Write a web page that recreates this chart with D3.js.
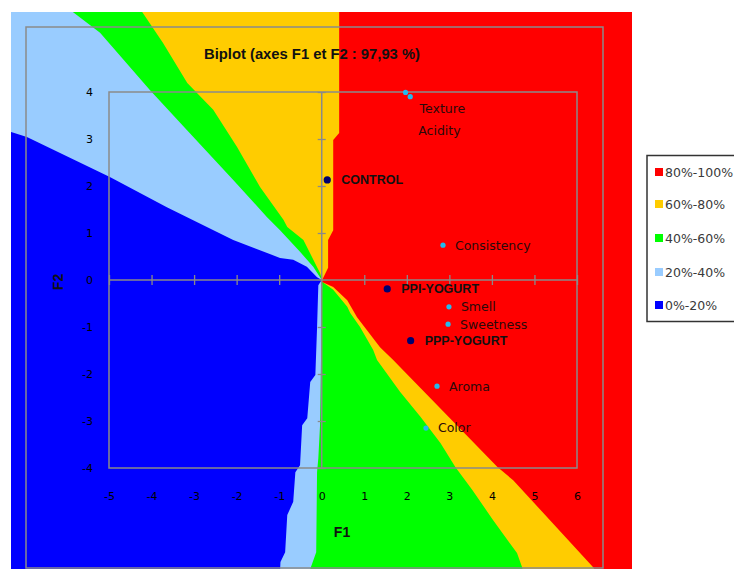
<!DOCTYPE html>
<html><head><meta charset="utf-8">
<script src="https://cdn.jsdelivr.net/npm/d3@7"></script>
<style>body{margin:0;background:#fff}svg{display:block}</style>
</head><body>
<svg id="c" width="734" height="569"></svg>
<script>
// ---------- data ----------
const xTicks = [-5,-4,-3,-2,-1,0,1,2,3,4,5,6];
const yTicks = [-4,-3,-2,-1,0,1,2,3,4];
const chartTitle = "Biplot (axes F1 et F2 : 97,93 %)";
const xTitle = "F1", yTitle = "F2";

const zoneLabels = ["80%-100%","60%-80%","40%-60%","20%-40%","0%-20%"];
const zoneColors = ["#ff0000","#ffcc00","#00ff00","#99ccff","#0000ff"];

// zone boundaries (F1,F2), from the centre outwards
const b20upper = [[0,0],[-0.11,0.06],[-0.35,0.28],[-0.67,0.43],[-0.98,0.47],[-2.08,0.85],[-3.64,1.55],[-4.98,2.19],[-6.93,3.04],[-7.30,3.15],[-7.6,3.28]];
const b20lower = [[-0.08,-0.11],[-0.11,-1.02],[-0.15,-2.02],[-0.27,-2.17],[-0.34,-2.94],[-0.46,-3.09],[-0.51,-3.94],[-0.62,-4.09],[-0.67,-4.72],[-0.81,-5.0],[-0.86,-5.79],[-0.97,-6.0],[-1.0,-6.6]];
const b40upper = [[0,0],[-0.04,0.06],[-0.20,0.28],[-0.51,0.60],[-0.98,1.06],[-1.29,1.34],[-2.08,2.13],[-3.17,3.19],[-4.04,4.04],[-5.21,5.26],[-5.85,5.70],[-6.1,6.0]];
const b40lower = [[0.01,-0.11],[-0.04,-3.09],[-0.08,-3.79],[-0.11,-4.09],[-0.13,-5.79],[-0.27,-6.15],[-0.32,-6.6]];
const b60upper = [[0.01,0],[-0.04,0.15],[-0.43,0.85],[-0.81,1.13],[-0.90,1.28],[-1.45,1.98],[-1.99,2.83],[-2.55,3.62],[-3.16,4.19],[-3.73,5.04],[-4.22,5.70],[-4.4,6.0]];
const b60lower = [[0.04,-0.06],[0.27,-0.21],[0.6,-0.57],[0.67,-0.70],[0.9,-1.0],[1.21,-1.49],[1.30,-1.70],[1.84,-2.38],[2.32,-2.91],[2.79,-3.47],[3.14,-3.98],[3.54,-4.47],[4.03,-5.11],[4.59,-5.81],[4.71,-6.11],[4.85,-6.6]];
const b80upper = [[0.01,0],[0.15,0.26],[0.15,0.85],[0.27,1.06],[0.27,2.98],[0.41,3.13],[0.41,6.0]];
const b80lower = [[0.01,-0.04],[0.27,-0.15],[0.6,-0.43],[0.83,-0.79],[1.37,-1.43],[1.68,-1.70],[1.84,-1.85],[4.13,-3.98],[4.50,-4.26],[6.38,-6.11],[6.7,-6.6]];

// observations
const obsNames = ["CONTROL","PPI-YOGURT","PPP-YOGURT"];
const obsF1 = [0.13, 1.54, 2.09];
const obsF2 = [2.13, -0.19, -1.29];
// variables
const varNames = ["Texture","Acidity","Consistency","Smell","Sweetness","Aroma","Color"];
const varF1 = [1.97, 2.08, 2.85, 2.99, 2.97, 2.71, 2.45];
const varF2 = [3.99, 3.90, 0.74, -0.57, -0.94, -2.26, -3.15];

// ---------- layout ----------
const x = d3.scaleLinear().domain([-5,6]).range([109,577]);
const y = d3.scaleLinear().domain([-4,4]).range([468,92]);
const region = {x0:11, y0:12, x1:632, y1:569};
const varLabelOffset = {Texture:[14,16], Acidity:[8,34]};
const gray = "#8a8a8a";

const svg = d3.select("#c");
svg.append("defs").append("clipPath").attr("id","reg")
  .append("rect").attr("x",region.x0).attr("y",region.y0)
  .attr("width",region.x1-region.x0).attr("height",region.y1-region.y0);

const zones = svg.append("g").attr("clip-path","url(#reg)");
zones.append("rect").attr("x",region.x0).attr("y",region.y0)
  .attr("width",region.x1-region.x0).attr("height",region.y1-region.y0)
  .attr("fill",zoneColors[4]);

const TOP = 6.3, BOT = -6.8, RIGHT = 7.8;
function sector(upper, lower){
  const pts = upper.slice();
  const last = upper[upper.length-1];
  pts.push([last[0], TOP]);
  pts.push([RIGHT, TOP]);
  pts.push([RIGHT, BOT]);
  const lend = lower[lower.length-1];
  pts.push([lend[0], BOT]);
  for (let i = lower.length-1; i >= 0; i--) pts.push(lower[i]);
  return pts;
}
const line = d3.line().x(d=>x(d[0])).y(d=>y(d[1])).curve(d3.curveLinearClosed);
const s20 = b20upper.slice(); s20.push([-7.6, TOP]);
const sectors = [
  [sector(s20, b20lower), zoneColors[3]],
  [sector(b40upper, b40lower), zoneColors[2]],
  [sector(b60upper, b60lower), zoneColors[1]],
  [sector(b80upper, b80lower), zoneColors[0]]
];
sectors.forEach(([p,c]) => zones.append("path").attr("d", line(p)).attr("fill", c));

// frames
svg.append("rect").attr("x",26).attr("y",27).attr("width",577).attr("height",541)
  .attr("fill","none").attr("stroke",gray).attr("stroke-width",1.5);
svg.append("rect").attr("x",x(-5)).attr("y",y(4)).attr("width",x(6)-x(-5)).attr("height",y(-4)-y(4))
  .attr("fill","none").attr("stroke",gray).attr("stroke-width",1.5);
svg.append("line").attr("x1",x(-5)).attr("x2",x(6)).attr("y1",y(0)).attr("y2",y(0))
  .attr("stroke",gray).attr("stroke-width",1.5);
svg.append("line").attr("x1",x(0)).attr("x2",x(0)).attr("y1",y(4)).attr("y2",y(-4))
  .attr("stroke",gray).attr("stroke-width",1.5);

// tick marks on the zero lines
const gxT = svg.append("g").attr("transform",`translate(0,${y(0)-5})`)
  .call(d3.axisBottom(x).tickValues(xTicks.filter(d=>d!==0)).tickSize(10).tickFormat(""));
gxT.select(".domain").remove();
gxT.selectAll("line").attr("stroke",gray).attr("stroke-width",1.3);
const gyT = svg.append("g").attr("transform",`translate(${x(0)+4},0)`)
  .call(d3.axisLeft(y).tickValues(yTicks.filter(d=>d!==0)).tickSize(8).tickFormat(""));
gyT.select(".domain").remove();
gyT.selectAll("line").attr("stroke",gray).attr("stroke-width",1.3);

// tick labels (plain hyphen minus as in the original)
const fmt = d => String(d);
const gx = svg.append("g").attr("transform",`translate(0,${y(-4)})`)
  .call(d3.axisBottom(x).tickValues(xTicks).tickSize(0).tickPadding(24).tickFormat(fmt));
gx.select(".domain").remove();
gx.selectAll("text").attr("font-family","DejaVu Sans").attr("font-size",11).attr("fill","#000");
const gy = svg.append("g").attr("transform",`translate(${x(-5)},0)`)
  .call(d3.axisLeft(y).tickValues(yTicks).tickSize(0).tickPadding(16).tickFormat(fmt));
gy.select(".domain").remove();
gy.selectAll("text").attr("font-family","DejaVu Sans").attr("font-size",11).attr("fill","#000");

// titles
svg.append("text").attr("x",312).attr("y",59).attr("text-anchor","middle")
  .attr("font-family","Liberation Sans, Arial").attr("font-weight","bold").attr("font-size",15)
  .attr("textLength",216).attr("lengthAdjust","spacingAndGlyphs")
  .attr("fill","#111").text(chartTitle);
svg.append("text").attr("x",342).attr("y",537).attr("text-anchor","middle")
  .attr("font-family","Liberation Sans, Arial").attr("font-weight","bold").attr("font-size",14)
  .attr("fill","#111").text(xTitle);
svg.append("text").attr("transform",`translate(63,282) rotate(-90)`).attr("text-anchor","middle")
  .attr("font-family","Liberation Sans, Arial").attr("font-weight","bold").attr("font-size",14)
  .attr("fill","#111").text(yTitle);

// variables
varNames.forEach((n,i)=>{
  const px = x(varF1[i]), py = y(varF2[i]);
  svg.append("circle").attr("cx",px).attr("cy",py).attr("r",2.6).attr("fill","#22bbee");
  const off = varLabelOffset[n] || [12,0];
  svg.append("text").attr("x",px+off[0]).attr("y",py+off[1]).attr("dy","0.35em")
    .attr("font-family","DejaVu Sans").attr("font-size",12.5).attr("fill","#2a0a0a").text(n);
});
// observations
obsNames.forEach((n,i)=>{
  const px = x(obsF1[i]), py = y(obsF2[i]);
  svg.append("circle").attr("cx",px).attr("cy",py).attr("r",3.6).attr("fill","#000070");
  svg.append("text").attr("x",px+14).attr("y",py).attr("dy","0.35em")
    .attr("font-family","Liberation Sans, Arial").attr("font-weight","bold").attr("font-size",12.5)
    .attr("fill","#111").text(n);
});

// legend
const lg = svg.append("g");
lg.append("rect").attr("x",647).attr("y",155.5).attr("width",100).attr("height",166)
  .attr("fill","#fff").attr("stroke","#333").attr("stroke-width",1.5);
const rowY = [172,204,238,272,305];
zoneLabels.forEach((l,i)=>{
  lg.append("rect").attr("x",655).attr("y",rowY[i]-4).attr("width",8).attr("height",8).attr("fill",zoneColors[i]);
  lg.append("text").attr("x",665).attr("y",rowY[i]).attr("dy","0.36em")
    .attr("font-family","DejaVu Sans").attr("font-size",12.5).attr("fill","#3a3a3a").text(l);
});
</script>
</body></html>
